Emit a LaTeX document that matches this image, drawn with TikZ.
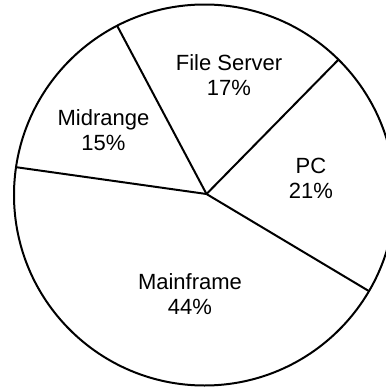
\documentclass[tikz,border=0pt]{standalone}
\usepackage{fontspec}
\setmainfont{Liberation Sans}
\begin{document}
\begin{tikzpicture}[x=1pt,y=-1pt,
  rim/.style={line width=2pt},
  spoke/.style={line width=2pt},
  slicelabel/.style={align=center,anchor=base,inner sep=0pt,
    font=\fontsize{22}{25}\selectfont}]
  \useasboundingbox (0,0) rectangle (386,389);
  \clip (0,0) rectangle (386,389);
  % outline and hub
  \coordinate (C) at (204.5,195);
  \coordinate (H) at (206.5,194);
  \draw[rim] (C) circle[radius=190.5];
  % slice boundaries on the rim (angles counted clockwise, y downwards)
  \coordinate (L)  at ([shift={(-171.6:190.5)}]C);
  \coordinate (TL) at ([shift={(-117.3:190.5)}]C);
  \coordinate (TR) at ([shift={(-45.3:190.5)}]C);
  \coordinate (BR) at ([shift={(30.3:190.5)}]C);
  \draw[spoke] (L) -- (H);
  \draw[spoke] (TL) -- (H);
  \draw[spoke] (TR) -- (H);
  \draw[spoke] (BR) -- (H);
  % slice labels (anchored at the baseline of the last line)
  \node[slicelabel] (fs) at (229,95) {File Server\\17\%};
  \node[slicelabel] (mr) at (103.5,150) {Midrange\\15\%};
  \node[slicelabel] (pc) at (311,198.3) {PC\\21\%};
  \node[slicelabel] (mf) at (190,314.3) {Mainframe\\44\%};
\end{tikzpicture}
\end{document}
